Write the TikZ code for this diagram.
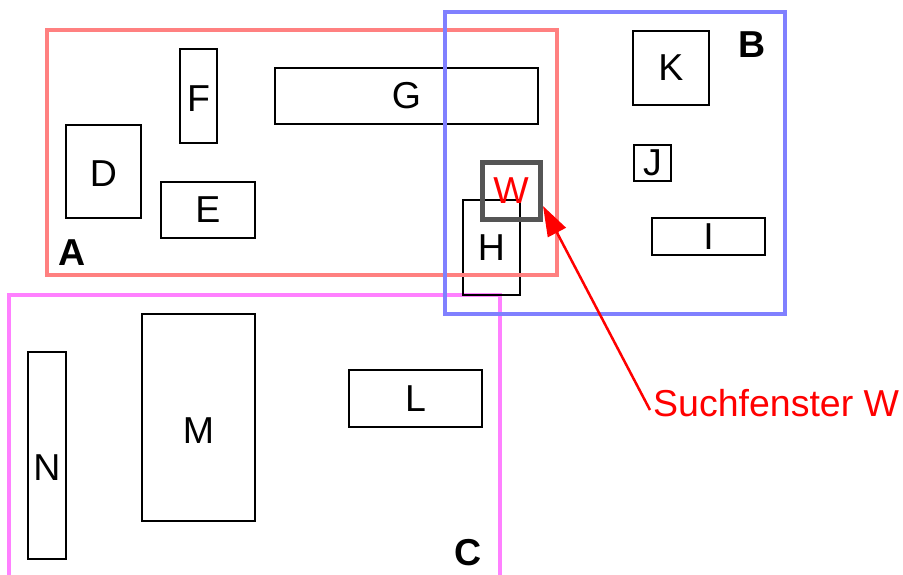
\documentclass[tikz,border=0pt]{standalone}
\usepackage{fontspec}
\setmainfont{Liberation Sans}
\usetikzlibrary{arrows.meta}

\definecolor{areaA}{RGB}{255,128,128}
\definecolor{areaB}{RGB}{128,128,255}
\definecolor{areaC}{RGB}{255,128,255}
\definecolor{wingray}{RGB}{85,85,85}

\tikzset{
  obj/.style={draw, line width=2.5pt, inner sep=0pt},
  region/.style={line width=4pt},
  regionlabel/.style={font=\fontsize{37.5}{40}\selectfont\bfseries},
}

\begin{document}
\begin{tikzpicture}[x=1pt, y=-1pt, font=\fontsize{37.5}{40}\selectfont]
      \useasboundingbox (0,0) rectangle (903,574);
      % region C, open at the bottom
      \draw[region, areaC] (9,585) |- (500,295) -- (500,585);
      \node[regionlabel] (c) at (468,553) {C};
      \node[obj, minimum width=38pt, minimum height=207pt, label={[yshift=-12pt]center:N}] (n) at (47,455.5) {};
      \node[obj, minimum width=113pt, minimum height=207pt, label={[yshift=-13pt]center:M}] (m) at (198.5,417.5) {};
      \node[obj, minimum width=133pt, minimum height=57pt] (l) at (415.5,398.5) {L};
      \node[obj, minimum width=75pt, minimum height=93pt, label={[yshift=-2pt]center:D}] (d) at (103.5,171.5) {};
      \node[obj, minimum width=37pt, minimum height=94pt, label={[yshift=-3pt]center:F}] (f) at (198.5,96) {};
      \node[obj, minimum width=263pt, minimum height=56pt] (g) at (406.5,96) {G};
      \node[obj, minimum width=94pt, minimum height=56pt] (e) at (208,210) {E};
      \node[obj, minimum width=57pt, minimum height=95pt] (h) at (491.5,247.5) {H};
      \node[obj, minimum width=76pt, minimum height=74pt] (k) at (671,68) {K};
      \node[obj, minimum width=37pt, minimum height=36pt] (j) at (652.5,163) {J};
      \node[obj, minimum width=113pt, minimum height=37pt] (i) at (708.5,236.5) {I};
      % regions A and B
      \draw[region, areaA] (47,30) rectangle (557,275);
      \node[regionlabel] (a) at (72,253) {A};
      \draw[region, areaB] (445,12) rectangle (785,314);
      \node[regionlabel] (b) at (752,45) {B};
      % search window
      \node[draw=wingray, line width=5pt, inner sep=0pt, minimum width=58pt, minimum height=57pt, text=red] (w) at (511,190.5) {W};
      \node[anchor=west, text=red, inner sep=0pt] (sw) at (653,403) {Suchfenster W};
      \coordinate (tip) at (543,206);
      \draw[red, line width=2.5pt, -{Triangle[length=30pt, width=20pt]}] ([shift={(-3,7)}]sw.west) -- (tip);
\end{tikzpicture}
\end{document}
